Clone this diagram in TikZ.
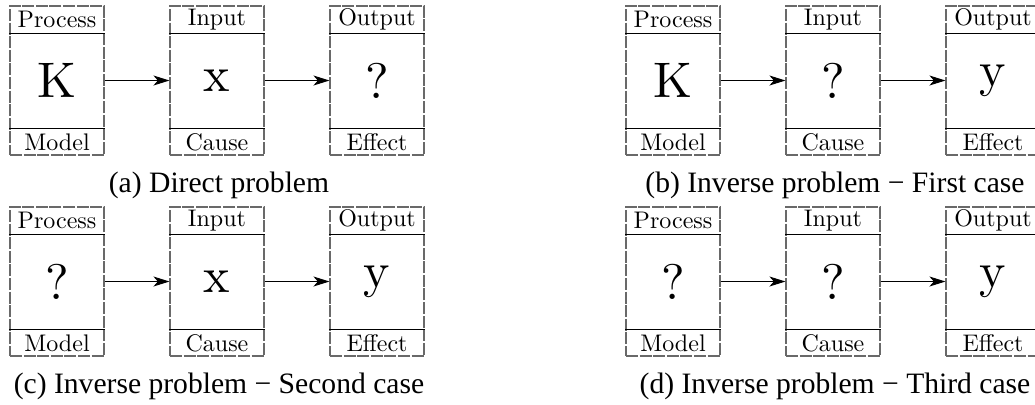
\documentclass[tikz,border=0pt]{standalone}
\usepackage{fontspec}
\setmainfont{LiberationSerif-Regular.ttf}
\newfontfamily\lmten{lmroman10-regular}[Extension=.otf]
\usetikzlibrary{arrows.meta}
\definecolor{dashgray}{RGB}{105,105,105}
\tikzset{
  cellbox/.style={draw=dashgray, dash pattern=on 6pt off 0.8pt, line width=0.55pt,
    minimum width=47pt, minimum height=74.5pt, inner sep=0pt,
    font=\lmten\fontsize{25}{30}\selectfont},
  sublab/.style={inner sep=0pt, font=\lmten\fontsize{12}{14}\selectfont},
  sep/.style={line width=0.45pt, black},
  conn/.style={-{Stealth[length=8pt,width=5pt,inset=2.2pt]}, line width=0.5pt},
  captext/.style={inner sep=0pt, font=\rmfamily\fontsize{14.8}{18}\selectfont}
}
\begin{document}
\begin{tikzpicture}[x=0.5pt,y=-0.5pt]
\clip (0,0) rectangle (1035,404);
\useasboundingbox (0,0) rectangle (1035,404);
\foreach \p/\px/\py/\ma/\mb/\mc/\captxt in {
  a/10/6/K/x/?/{(a) Direct problem},
  b/626/6/K/?/y/{(b) Inverse problem − First case},
  c/10/207/?/x/y/{(c) Inverse problem − Second case},
  d/626/207/?/?/y/{(d) Inverse problem − Third case}}{
  \node[cellbox] (\p1) at (\px+47,\py+74.5) {\ma};
  \node[cellbox] (\p2) at (\px+207,\py+74.5) {\mb};
  \node[cellbox] (\p3) at (\px+367,\py+74.5) {\mc};
  \foreach \i/\top/\bot in {1/Process/Model,2/Input/Cause,3/Output/Effect}{
    \draw[sep] ([yshift=-14pt]\p\i.north west) -- ([yshift=-14pt]\p\i.north east);
    \draw[sep] ([yshift=13.5pt]\p\i.south west) -- ([yshift=13.5pt]\p\i.south east);
    \node[sublab] (\p\i t) at ([yshift=-7pt]\p\i.north) {\top};
    \node[sublab] (\p\i b) at ([yshift=6.75pt]\p\i.south) {\bot};
  }
  \draw[conn] (\p1.east) -- (\p2.west);
  \draw[conn] (\p2.east) -- (\p3.west);
  \node[captext] (\p cap) at (\px+209,\py+179) {\captxt};
}
\end{tikzpicture}
\end{document}
